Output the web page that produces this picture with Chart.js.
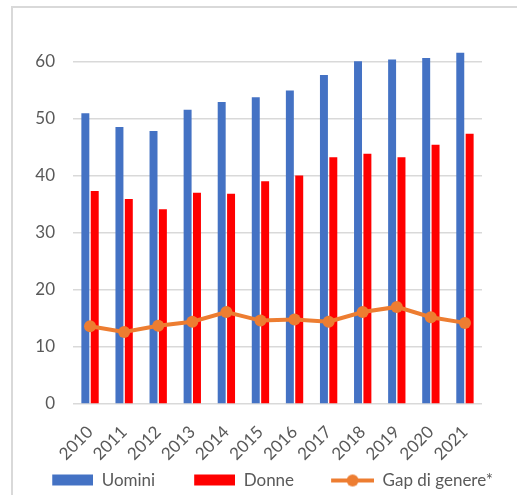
<!DOCTYPE html>
<html>
<head>
<meta charset="utf-8">
<script src="https://cdn.jsdelivr.net/npm/chart.js@4.4.0/dist/chart.umd.min.js"></script>
<style>
  html, body { margin: 0; padding: 0; background: #fff; }
  #wrap { position: relative; width: 517px; height: 495px; overflow: hidden; }
  #frame { position: absolute; left: 11px; top: 6px; width: 600px; height: 600px; border: 2px solid #d9d9d9; }
  #myChart { position: absolute; left: 0; top: 0; }
</style>
</head>
<body>
<div id="wrap">
  <div id="frame"></div>
  <canvas id="myChart" width="517" height="495"></canvas>
</div>
<script>
const years = ["2010", "2011", "2012", "2013", "2014", "2015", "2016", "2017", "2018", "2019", "2020", "2021"];
const uomini = [50.9, 48.5, 47.8, 51.5, 52.9, 53.7, 54.9, 57.6, 60.0, 60.3, 60.6, 61.5];
const donne = [37.3, 35.9, 34.1, 37.0, 36.8, 39.0, 40.0, 43.2, 43.8, 43.2, 45.4, 47.3];
const gap = [13.6, 12.6, 13.7, 14.4, 16.1, 14.6, 14.8, 14.4, 16.1, 17.0, 15.2, 14.2];
const yTicks = [0, 10, 20, 30, 40, 50, 60];

const BLUE = "#4472C4";
const RED = "#FF0000";
const ORANGE = "#ED7D31";
const TXT = "#595959";
const FONT = "Lato, 'Open Sans', sans-serif";

// legend swatches as images, with empty space on the left for spacing
const SW = 70, SH = 14;
function swatch(kind, color) {
  const c = document.createElement("canvas");
  c.width = SW; c.height = SH;
  const g = c.getContext("2d");
  if (kind === "box") {
    g.fillStyle = color;
    g.fillRect(SW - 41, 1, 41, 11);
  } else {
    g.strokeStyle = color;
    g.lineWidth = 4;
    g.beginPath(); g.moveTo(SW - 43, 7); g.lineTo(SW, 7); g.stroke();
    g.fillStyle = color;
    g.beginPath(); g.arc(SW - 21.5, 7, 6, 0, Math.PI * 2); g.fill();
  }
  return c;
}
const legendImgs = [swatch("box", BLUE), swatch("box", RED), swatch("line", ORANGE)];

const ctx = document.getElementById("myChart");
new Chart(ctx, {
  type: "bar",
  data: {
    labels: years,
    datasets: [
      { type: "line", label: "Gap di genere*", data: gap, borderColor: ORANGE, backgroundColor: ORANGE,
        borderWidth: 4, pointRadius: 6, pointBackgroundColor: ORANGE, pointBorderWidth: 0, tension: 0, order: 0 },
      { label: "Uomini", data: uomini, backgroundColor: BLUE, order: 1,
        categoryPercentage: 0.55, barPercentage: 0.85 },
      { label: "Donne", data: donne, backgroundColor: RED, order: 1,
        categoryPercentage: 0.55, barPercentage: 0.85 },
    ],
  },
  options: {
    responsive: false,
    animation: false,
    layout: { padding: { left: 4, right: 14, top: 15, bottom: -4 } },
    plugins: {
      tooltip: { enabled: false },
      legend: {
        position: "bottom",
        align: "end",
        labels: {
          color: TXT,
          font: { family: FONT, size: 17 },
          usePointStyle: true,
          pointStyleWidth: SW,
          padding: 10,
          generateLabels: (chart) => {
            const order = [1, 2, 0];
            return order.map((di, i) => ({
              text: chart.data.datasets[di].label,
              datasetIndex: di,
              pointStyle: legendImgs[i],
              fillStyle: "transparent",
              strokeStyle: "transparent",
              lineWidth: 0,
              fontColor: TXT,
              hidden: false,
            }));
          },
        },
      },
    },
    scales: {
      x: {
        grid: { display: false, drawTicks: false },
        border: { display: false },
        ticks: { color: TXT, font: { family: FONT, size: 17 }, minRotation: 45, maxRotation: 45,
                 autoSkip: false, padding: 18 },
        afterFit: (scale) => { scale.height = 58; },
      },
      y: {
        min: 0,
        max: 65.8,
        afterBuildTicks: (axis) => {
          axis.ticks = yTicks.map((v) => ({ value: v }));
        },
        grid: { color: "#d9d9d9", lineWidth: 1.5, drawTicks: false },
        border: { display: false },
        ticks: { color: TXT, font: { family: FONT, size: 17 }, padding: 18 },
        afterFit: (scale) => { scale.width = 69; },
      },
      yRight: {
        position: "right",
        grid: { display: false },
        border: { display: false },
        ticks: { display: false },
        afterFit: (scale) => { scale.width = 21; },
      },
    },
  },
});
</script>
</body>
</html>
